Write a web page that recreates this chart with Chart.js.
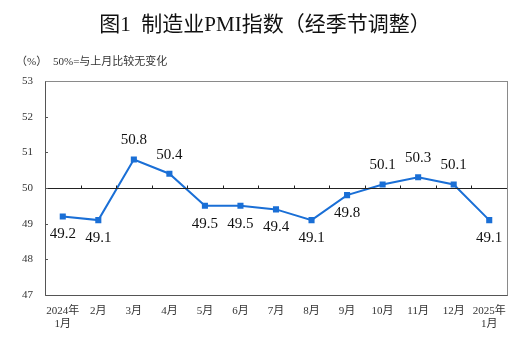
<!DOCTYPE html>
<html>
<head>
<meta charset="utf-8">
<script src="https://cdn.jsdelivr.net/npm/chart.js@4/dist/chart.umd.min.js"></script>
<style>
html,body{margin:0;padding:0;background:#fff;}
#wrap{width:528px;height:346px;position:relative;}
</style>
</head>
<body>
<div id="wrap"><canvas id="c" width="528" height="346"></canvas></div>
<script>
const categories = [['2024年','1月'],'2月','3月','4月','5月','6月','7月','8月','9月','10月','11月','12月',['2025年','1月']];
const pmiValues = [49.2,49.1,50.8,50.4,49.5,49.5,49.4,49.1,49.8,50.1,50.3,50.1,49.1];
const yTickValues = [47,48,49,50,51,52,53];
const titleText = '图1  制造业PMI指数（经季节调整）';
const unitText = '（%）';
const noteText = '50%=与上月比较无变化';
const referenceValue = 50;

const SERIF = "'Liberation Serif','Noto Sans CJK SC',serif";
const LINE_COLOR = '#1a6fd6';

const decor = {
  id: 'decor',
  beforeDraw(chart) {
    const ctx = chart.ctx;
    ctx.save();
    ctx.fillStyle = '#111';
    ctx.textAlign = 'center';
    ctx.textBaseline = 'middle';
    ctx.font = "21px " + SERIF;
    ctx.fillText(titleText, 265, 25);
    ctx.font = "11px " + SERIF;
    ctx.textAlign = 'left';
    ctx.fillStyle = '#333';
    ctx.fillText(unitText, 16, 62);
    ctx.fillText(noteText, 53, 62);
    ctx.restore();
  },
  afterDatasetsDraw(chart) {
    const ctx = chart.ctx;
    const a = chart.chartArea;
    const xs = chart.scales.x, ys = chart.scales.y;
    ctx.save();
    const y50 = Math.round(ys.getPixelForValue(referenceValue)) + 0.5;
    ctx.strokeStyle = '#222';
    ctx.lineWidth = 1;
    ctx.beginPath();
    ctx.moveTo(a.left, y50); ctx.lineTo(a.right, y50);
    for (let i = 0; i < categories.length - 1; i++) {
      const xb = Math.round((xs.getPixelForValue(i) + xs.getPixelForValue(i + 1)) / 2) + 0.5;
      ctx.moveTo(xb, y50); ctx.lineTo(xb, y50 - 3);
    }
    ctx.stroke();
    ctx.strokeStyle = '#555';
    ctx.beginPath();
    yTickValues.forEach(v => {
      const yy = Math.round(ys.getPixelForValue(v)) + 0.5;
      ctx.moveTo(a.left, yy); ctx.lineTo(a.left + 3, yy);
    });
    ctx.stroke();
    ctx.strokeStyle = '#8a8a8a';
    ctx.strokeRect(Math.round(a.left) + 0.5, Math.round(a.top) + 0.5, Math.round(a.right - a.left), Math.round(a.bottom - a.top));
    ctx.strokeStyle = '#555';
    ctx.beginPath();
    ctx.moveTo(Math.round(a.left) + 0.5, Math.round(a.top) + 0.5);
    ctx.lineTo(Math.round(a.left) + 0.5, Math.round(a.bottom) + 0.5);
    ctx.lineTo(Math.round(a.right) + 0.5, Math.round(a.bottom) + 0.5);
    ctx.stroke();
    ctx.font = "15px " + SERIF;
    ctx.fillStyle = '#111';
    ctx.textAlign = 'center';
    ctx.textBaseline = 'middle';
    const meta = chart.getDatasetMeta(0);
    meta.data.forEach((pt, i) => {
      const v = pmiValues[i];
      const dy = v > referenceValue ? -19 : 18;
      ctx.fillText(v.toFixed(1), pt.x, pt.y + dy);
    });
    ctx.restore();
  }
};

new Chart(document.getElementById('c'), {
  type: 'line',
  data: {
    labels: categories,
    datasets: [{
      data: pmiValues,
      borderColor: LINE_COLOR,
      backgroundColor: LINE_COLOR,
      borderWidth: 2,
      pointStyle: 'rect',
      pointRadius: 4.3,
      pointBorderWidth: 0,
      pointBackgroundColor: LINE_COLOR,
      tension: 0
    }]
  },
  options: {
    responsive: false,
    animation: false,
    devicePixelRatio: 1,
    layout: { padding: { top: 81, right: 21, left: 0, bottom: 0 } },
    plugins: { legend: { display: false }, tooltip: { enabled: false }, title: { display: false } },
    scales: {
      x: {
        offset: true,
        grid: { display: false, drawTicks: false },
        border: { display: false },
        ticks: { padding: 10, color: '#333', font: { family: SERIF, size: 11, lineHeight: 1.15 }, maxRotation: 0, autoSkip: false },
        afterFit(s) { s.height = 51; }
      },
      y: {
        min: 47, max: 53,
        afterBuildTicks(s) { s.ticks = yTickValues.map(v => ({ value: v })); },
        grid: { display: false, drawTicks: false },
        border: { display: false },
        ticks: { padding: 12, color: '#333', font: { family: SERIF, size: 11 } },
        afterFit(s) { s.width = 45; }
      }
    }
  },
  plugins: [decor]
});
</script>
</body>
</html>
